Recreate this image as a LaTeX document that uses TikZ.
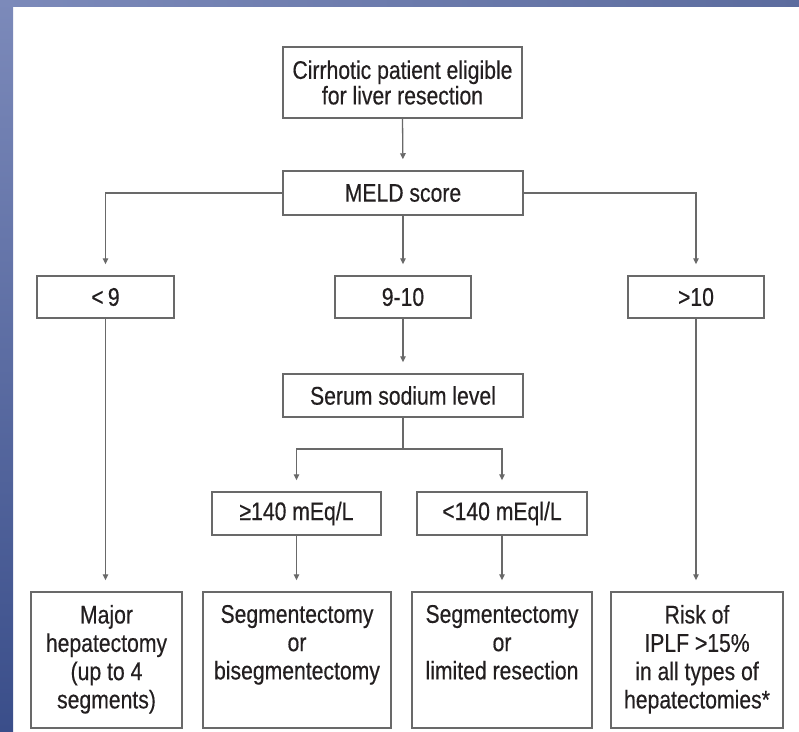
\documentclass[tikz,border=0pt]{standalone}
\usepackage{fontspec}
\setmainfont[FakeStretch=0.83,FakeBold=0.4]{Liberation Sans}
\usetikzlibrary{arrows.meta}
\definecolor{txt}{RGB}{35,31,32}
\definecolor{edge}{RGB}{105,105,105}
\definecolor{bluetop}{RGB}{124,138,186}
\definecolor{bluebot}{RGB}{58,78,138}
\definecolor{blueright}{RGB}{92,108,158}
\begin{document}
\begin{tikzpicture}[x=1pt,y=-1pt,
  box/.style={draw=edge,line width=1.5pt,fill=white,inner sep=0pt,text=txt,align=center,
    font=\fontsize{25.5pt}{25.5pt}\selectfont},
  bigbox/.style={box,minimum height=136pt},
  arr/.style={draw=edge,line width=1.3pt,-{Triangle[width=5.5pt,length=6pt]},shorten >=11pt},
  ln/.style={draw=edge,line width=1.3pt}]
\useasboundingbox (0,0) rectangle (799,731);
\fill[white] (0,0) rectangle (799,731);
\shade[top color=bluetop,bottom color=bluebot] (0,0) rectangle (13,731);
\shade[left color=bluetop,right color=blueright] (0,0) rectangle (799,6);

\node[box,minimum width=239pt,minimum height=71pt] (top) at (402.5,82.5) {Cirrhotic patient eligible\\for liver resection};
\node[box,minimum width=240pt,minimum height=44pt] (meld) at (403,193) {MELD score};
\node[box,minimum width=137pt,minimum height=42pt] (lt9) at (105.5,297) {<\,9};
\node[box,minimum width=136pt,minimum height=42pt] (b910) at (403,297) {9-10};
\node[box,minimum width=136pt,minimum height=42pt] (gt10) at (696,297) {>10};
\node[box,minimum width=240pt,minimum height=43pt] (serum) at (403,395.5) {Serum sodium level};
\node[box,minimum width=169pt,minimum height=43pt] (ge140) at (296.5,513.5) {≥140 mEq/L};
\node[box,minimum width=170pt,minimum height=43pt] (lt140) at (502,513.5) {<140 mEql/L};

\newcommand{\boxtext}[2]{\parbox[c][110pt][t]{#1}{\centering\fontsize{25.5pt}{28.3pt}\selectfont #2}}
\node[bigbox,minimum width=151pt] (major) at (106.5,660) {\boxtext{140pt}{Major\\hepatectomy\\(up to 4\\segments)}};
\node[bigbox,minimum width=188pt] (segbi) at (297,660) {\boxtext{176pt}{Segmentectomy\\or\\bisegmentectomy}};
\node[bigbox,minimum width=180pt] (seglim) at (502,660) {\boxtext{168pt}{Segmentectomy\\or\\limited resection}};
\node[bigbox,minimum width=172pt] (risk) at (697,660) {\boxtext{160pt}{Risk of\\IPLF >15\%\\in all types of\\hepatectomies*}};

\coordinate (sp) at (403,449);

\draw[arr] (top.south) -- (meld.north);
\draw[arr] (meld.west) -| (lt9.north);
\draw[arr] (meld.east) -| (gt10.north);
\draw[arr] (meld.south) -- (b910.north);
\draw[arr] (lt9.south) -- (lt9.south |- major.north);
\draw[arr] (gt10.south) -- (gt10.south |- risk.north);
\draw[arr] (b910.south) -- (serum.north);
\draw[ln] (serum.south) -- (sp);
\draw[arr] (sp) -| (ge140.north);
\draw[arr] (sp) -| (lt140.north);
\draw[arr] (ge140.south) -- (ge140.south |- segbi.north);
\draw[arr] (lt140.south) -- (lt140.south |- seglim.north);
\end{tikzpicture}
\end{document}
